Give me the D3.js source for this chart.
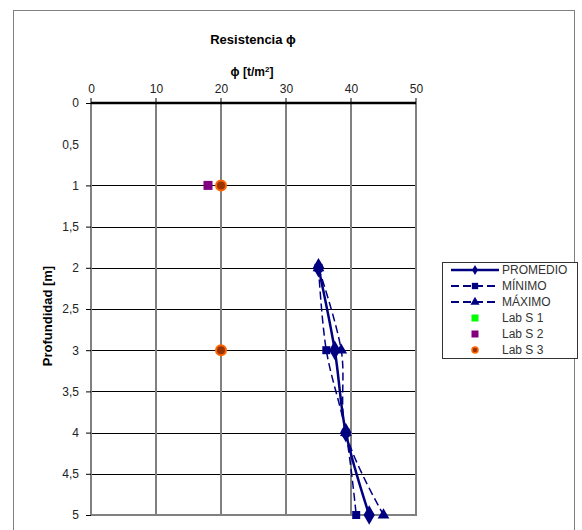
<!DOCTYPE html>
<html><head><meta charset="utf-8">
<script src="https://cdn.jsdelivr.net/npm/d3@7"></script>
<style>
body{margin:0;background:#fff;}
svg{font-family:"Liberation Sans",Arial,sans-serif;}
</style></head>
<body>
<svg id="c" width="582" height="530"></svg>
<script>
// ---- data ----
const depths = [2, 3, 4, 5];
const promedio = [35, 37.5, 39.2, 42.8];
const minimo = [35, 36.2, 39.2, 40.8];
const maximo = [35, 38.5, 39.2, 45];
const labS1 = [];
const labS2 = [{d: 1, v: 18}];
const labS3 = [{d: 1, v: 20}, {d: 3, v: 20}];
const xTicks = [0, 10, 20, 30, 40, 50];
const yTicks = [0, 0.5, 1, 1.5, 2, 2.5, 3, 3.5, 4, 4.5, 5];
const yGrid = [1, 1.5, 2, 2.5, 3, 3.5, 4, 4.5];
const legendNames = ["PROMEDIO", "MÍNIMO", "MÁXIMO", "Lab S 1", "Lab S 2", "Lab S 3"];

const svg = d3.select("#c");
const navy = "#000080";
const x = d3.scaleLinear().domain([0, 50]).range([91, 416]);
const y = d3.scaleLinear().domain([0, 5]).range([103, 515]);

// outer border
svg.append("rect").attr("x", 13.5).attr("y", 10.5).attr("width", 561).attr("height", 530)
  .attr("fill", "none").attr("stroke", "#808080").attr("stroke-width", 1);

// title
svg.append("text").attr("x", 253).attr("y", 44).attr("text-anchor", "middle")
  .attr("font-size", 13).attr("font-weight", "bold").text("Resistencia ϕ");
const xt = svg.append("text").attr("x", 252).attr("y", 76).attr("text-anchor", "middle")
  .attr("font-size", 12).attr("font-weight", "bold");
xt.append("tspan").text("ϕ [t/m");
xt.append("tspan").attr("font-size", 8).attr("dy", -4).text("2");
xt.append("tspan").attr("dy", 4).text("]");

svg.append("text").attr("transform", "translate(52,316) rotate(-90)").attr("text-anchor", "middle")
  .attr("font-size", 13).attr("font-weight", "bold").text("Profundidad [m]");

// horizontal gridlines
svg.append("g").selectAll("line").data(yGrid).join("line")
  .attr("x1", x(0)).attr("x2", x(50)).attr("y1", d => Math.round(y(d)) + 0.5).attr("y2", d => Math.round(y(d)) + 0.5)
  .attr("stroke", "#000").attr("stroke-width", 1);

// vertical gridlines (gray)
svg.append("g").selectAll("line").data(xTicks).join("line")
  .attr("x1", d => x(d)).attr("x2", d => x(d)).attr("y1", y(0) - 5).attr("y2", y(5))
  .attr("stroke", "#808080").attr("stroke-width", 2);
// bottom border
svg.append("line").attr("x1", x(0)).attr("x2", x(50) + 1).attr("y1", y(5)).attr("y2", y(5))
  .attr("stroke", "#808080").attr("stroke-width", 2);

// top axis
const xAxis = d3.axisTop(x).tickValues(xTicks).tickSize(0).tickPadding(10).tickFormat(d3.format("d"));
const gx = svg.append("g").attr("transform", `translate(0,${y(0)})`).call(xAxis);
gx.select(".domain").remove();
gx.selectAll("text").attr("font-size", 12).attr("fill", "#222").attr("font-family", "Liberation Sans, Arial, sans-serif");
svg.append("line").attr("x1", x(0)).attr("x2", x(50)).attr("y1", y(0)).attr("y2", y(0))
  .attr("stroke", "#000").attr("stroke-width", 2.5);

// left axis
const fmt = d => String(d).replace(".", ",");
const yAxis = d3.axisLeft(y).tickValues(yTicks).tickSize(5).tickPadding(7).tickFormat(fmt);
const gy = svg.append("g").attr("transform", `translate(${x(0)},0)`).call(yAxis);
gy.select(".domain").remove();
gy.selectAll(".tick line").attr("stroke", d => d === 0.5 ? "none" : "#000");
gy.selectAll("text").attr("font-size", 12).attr("fill", "#222").attr("font-family", "Liberation Sans, Arial, sans-serif");

// series lines
const curve = d3.curveCatmullRom.alpha(0.5);
const line = d3.line().x(d => x(d[0])).y(d => y(d[1])).curve(curve);
function pts(vals) { return vals.map((v, i) => [v, depths[i]]); }
svg.append("path").attr("d", line(pts(minimo))).attr("fill", "none").attr("stroke", navy)
  .attr("stroke-width", 1.5).attr("stroke-dasharray", "8,4");
svg.append("path").attr("d", line(pts(maximo))).attr("fill", "none").attr("stroke", navy)
  .attr("stroke-width", 1.5).attr("stroke-dasharray", "8,4");
svg.append("path").attr("d", line(pts(promedio))).attr("fill", "none").attr("stroke", navy)
  .attr("stroke-width", 2.5);

// markers
const sq = d3.symbol().type(d3.symbolSquare).size(64);
const tri = d3.symbol().type(d3.symbolTriangle).size(60);
const dia = d3.symbol().type(d3.symbolDiamond).size(110);
svg.append("g").selectAll("path").data(pts(minimo)).join("path")
  .attr("d", sq).attr("transform", d => `translate(${x(d[0])},${y(d[1])})`).attr("fill", navy);
svg.append("g").selectAll("path").data(pts(maximo)).join("path")
  .attr("d", tri).attr("transform", d => `translate(${x(d[0])},${y(d[1])})`).attr("fill", navy);
svg.append("g").selectAll("path").data(pts(promedio)).join("path")
  .attr("d", dia).attr("transform", d => `translate(${x(d[0])},${y(d[1])})`).attr("fill", navy);

// lab points
svg.append("g").selectAll("rect").data(labS1).join("rect")
  .attr("x", d => x(d.v) - 4).attr("y", d => y(d.d) - 4).attr("width", 8).attr("height", 8).attr("fill", "#00ff00");
svg.append("g").selectAll("rect").data(labS2).join("rect")
  .attr("x", d => x(d.v) - 4.5).attr("y", d => y(d.d) - 4.5).attr("width", 9).attr("height", 9).attr("fill", "#800080");
svg.append("g").selectAll("circle").data(labS3).join("circle")
  .attr("cx", d => x(d.v)).attr("cy", d => y(d.d)).attr("r", 5)
  .attr("fill", "#993300").attr("stroke", "#ff6600").attr("stroke-width", 2);

// legend
const lg = svg.append("g");
lg.append("rect").attr("x", 442.5).attr("y", 262.5).attr("width", 135).attr("height", 96)
  .attr("fill", "#fff").attr("stroke", "#333").attr("stroke-width", 1);
const ly0 = 270, lstep = 16;
legendNames.forEach((name, i) => {
  const yy = ly0 + i * lstep;
  if (i < 3) {
    lg.append("line").attr("x1", 451).attr("x2", 499).attr("y1", yy).attr("y2", yy)
      .attr("stroke", navy).attr("stroke-width", i === 0 ? 2.5 : 2)
      .attr("stroke-dasharray", i === 0 ? null : "8,4");
  }
  const m = lg.append("g").attr("transform", `translate(475,${yy})`);
  if (i === 0) m.append("path").attr("d", d3.symbol().type(d3.symbolDiamond).size(30)).attr("fill", navy);
  if (i === 1) m.append("path").attr("d", d3.symbol().type(d3.symbolSquare).size(40)).attr("fill", navy);
  if (i === 2) m.append("path").attr("d", d3.symbol().type(d3.symbolTriangle).size(36)).attr("fill", navy);
  if (i === 3) m.append("rect").attr("x", -3.5).attr("y", -3.5).attr("width", 7).attr("height", 7).attr("fill", "#00ff00");
  if (i === 4) m.append("rect").attr("x", -3.5).attr("y", -3.5).attr("width", 7).attr("height", 7).attr("fill", "#800080");
  if (i === 5) m.append("circle").attr("r", 3).attr("fill", "#993300").attr("stroke", "#ff6600").attr("stroke-width", 1.5);
  lg.append("text").attr("x", 502).attr("y", yy + 4).attr("font-size", 12).attr("fill", "#333").text(name);
});
</script>
</body></html>
